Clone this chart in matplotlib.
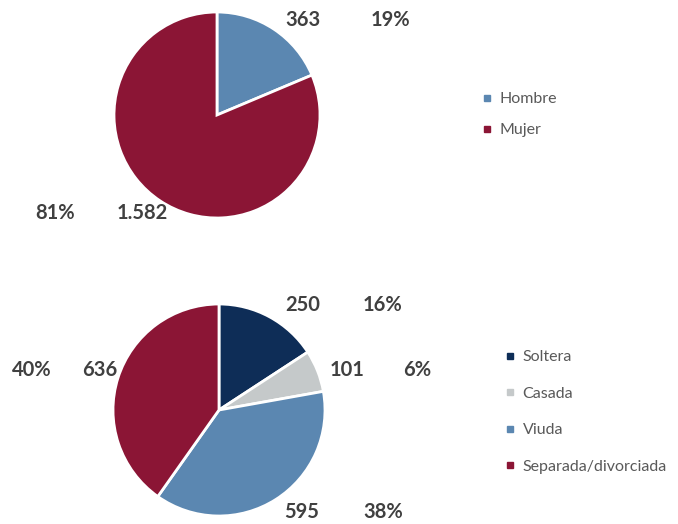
import matplotlib
matplotlib.use("Agg")
import matplotlib.pyplot as plt
from matplotlib.lines import Line2D

# Data
sexo_labels = ["Hombre", "Mujer"]
sexo_values = [363, 1582]
sexo_colors = ["#5B87B1", "#8B1535"]

civil_labels = ["Soltera", "Casada", "Viuda", "Separada/divorciada"]
civil_values = [250, 101, 595, 636]
civil_colors = ["#0E2D57", "#C5C9CA", "#5B87B1", "#8B1535"]

W, H = 678, 524
fig = plt.figure(figsize=(W / 100, H / 100), dpi=100)
plt.rcParams['font.family'] = ['Lato', 'DejaVu Sans']

TXT = "#404040"
LEG = "#595959"


def px(x, y):
    return x / W, 1 - y / H


def fmt(v):
    return f"{v:,}".replace(",", ".")


def make_pie(cx, cy, r, values, colors):
    ax = fig.add_axes([(cx - r) / W, 1 - (cy + r) / H, 2 * r / W, 2 * r / H])
    ax.pie(values, colors=colors, startangle=90, counterclock=False,
           wedgeprops=dict(edgecolor="white", linewidth=2))
    ax.set_xlim(-1, 1)
    ax.set_ylim(-1, 1)
    ax.set_aspect("equal")
    ax.axis("off")
    return ax


make_pie(217, 115, 103, sexo_values, sexo_colors)
make_pie(219, 410, 106, civil_values, civil_colors)

# label positions (pixel): (value_x, pct_x, y)
sexo_pos = [(303, 390, 20), (142, 55, 213)]
civil_pos = [(303, 383, 305), (347, 417, 370), (302, 383, 512), (100, 32, 370)]


def add_labels(values, positions):
    tot = sum(values)
    for v, (vx, px_, y) in zip(values, positions):
        fig.text(*px(vx, y), fmt(v), ha="center", va="center",
                 fontsize=14.5, fontweight="bold", color=TXT)
        fig.text(*px(px_, y), f"{round(100 * v / tot)}%", ha="center", va="center",
                 fontsize=14.5, fontweight="bold", color=TXT)


add_labels(sexo_values, sexo_pos)
add_labels(civil_values, civil_pos)


def add_legend(labels, colors, x, y_top, spacing):
    handles = [Line2D([], [], marker="s", linestyle="none", markersize=5,
                      markerfacecolor=c, markeredgecolor=c) for c in colors]
    leg = fig.legend(handles, labels, loc="upper left",
                     bbox_to_anchor=px(x, y_top), frameon=False,
                     handlelength=0.6, handletextpad=0.5, borderpad=0,
                     borderaxespad=0, labelspacing=spacing, fontsize=11.5,
                     labelcolor=LEG)
    return leg


add_legend(sexo_labels, sexo_colors, 482, 92, 1.05)
add_legend(civil_labels, civil_colors, 505, 350, 1.4)

fig.savefig("out.png", dpi=100)
